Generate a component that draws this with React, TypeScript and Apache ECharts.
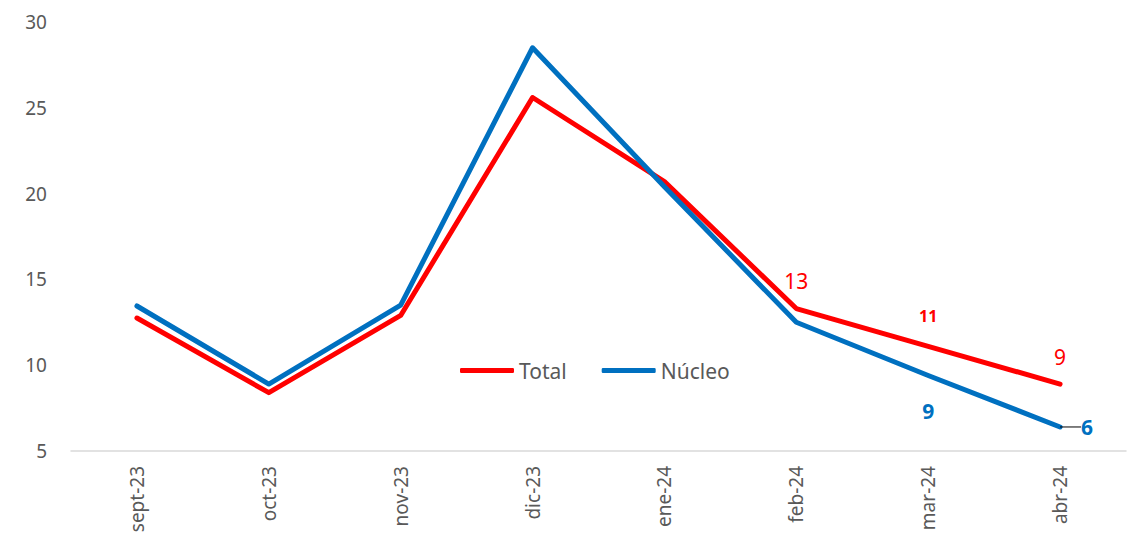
import React, { useEffect, useRef } from "react";
import * as echarts from "echarts";

// Monthly series, sept-23 to abr-24
const months = ["sept-23", "oct-23", "nov-23", "dic-23", "ene-24", "feb-24", "mar-24", "abr-24"];
const totalValues = [12.75, 8.4, 12.9, 25.6, 20.7, 13.3, 11.1, 8.9];
const nucleoValues = [13.45, 8.9, 13.5, 28.5, 20.4, 12.5, 9.4, 6.4];
const yTicks = [5, 10, 15, 20, 25, 30];

// Which points carry a value label
const totalLabelled = [5, 6, 7];
const nucleoLabelled = [6, 7];

const RED = "#FF0000";
const BLUE = "#0070C0";
const GREY = "#595959";

const rounded = (p: any) => String(Math.round(Number(p.value)));

export default function App() {
  const ref = useRef<HTMLDivElement>(null);

  useEffect(() => {
    if (!ref.current) return;
    const chart = echarts.init(ref.current, null, { renderer: "svg" });

    const totalData = totalValues.map((v, i) => {
      if (!totalLabelled.includes(i)) return v;
      const small = i === 6;
      return {
        value: v,
        label: {
          show: true,
          position: "top",
          distance: small ? 22 : 17,
          color: RED,
          fontSize: small ? 16 : 21,
          fontWeight: small ? "bold" : "normal",
          fontFamily: "Noto Sans",
          formatter: rounded,
        },
      };
    });

    const nucleoData = nucleoValues.map((v, i) => {
      if (!nucleoLabelled.includes(i)) return v;
      const last = i === nucleoValues.length - 1;
      return {
        value: v,
        label: {
          show: true,
          position: last ? "right" : "bottom",
          distance: last ? 20 : 25,
          color: BLUE,
          fontSize: 21,
          fontWeight: "bold",
          fontFamily: "Noto Sans",
          formatter: rounded,
        },
        labelLine: last
          ? { show: true, lineStyle: { color: "#000000", width: 1, opacity: 1 } }
          : undefined,
      };
    });

    chart.setOption({
      animation: false,
      backgroundColor: "#ffffff",
      grid: { left: 71, right: 1, top: 22, bottom: 88, containLabel: false },
      legend: {
        left: 455,
        top: 355,
        itemWidth: 54,
        itemHeight: 5,
        itemGap: 35,
        icon: "roundRect",
        textStyle: { color: GREY, fontSize: 21, fontFamily: "Noto Sans", padding: [0, 0, 0, 0] },
        data: ["Total", "Núcleo"],
      },
      xAxis: {
        type: "category",
        data: months,
        boundaryGap: true,
        axisLine: { show: true, lineStyle: { color: "#D9D9D9", width: 1.5 } },
        axisTick: { show: false },
        axisLabel: {
          rotate: 90,
          margin: 15,
          color: GREY,
          fontSize: 19,
          fontFamily: "Noto Sans",
        },
      },
      yAxis: {
        type: "value",
        min: yTicks[0],
        max: yTicks[yTicks.length - 1],
        interval: 5,
        splitLine: { show: false },
        axisLine: { show: false },
        axisTick: { show: false },
        axisLabel: { color: GREY, fontSize: 19, fontFamily: "Noto Sans", margin: 24 },
      },
      series: [
        {
          name: "Total",
          type: "line",
          data: totalData,
          showSymbol: true,
          symbol: "circle",
          symbolSize: 0,
          lineStyle: { color: RED, width: 5, cap: "round", join: "round" },
          itemStyle: { color: RED },
          z: 2,
        },
        {
          name: "Núcleo",
          type: "line",
          data: nucleoData,
          showSymbol: true,
          symbol: "circle",
          symbolSize: 0,
          lineStyle: { color: BLUE, width: 5, cap: "round", join: "round" },
          itemStyle: { color: BLUE },
          labelLayout: (p: any) => (p.dataIndex === nucleoValues.length - 1 ? { dx: 1 } : {}),
          z: 3,
        },
      ],
    });

    return () => chart.dispose();
  }, []);

  return (
    <div
      ref={ref}
      style={{ position: "fixed", left: 0, top: 0, width: 1127, height: 539, background: "#fff" }}
    />
  );
}
